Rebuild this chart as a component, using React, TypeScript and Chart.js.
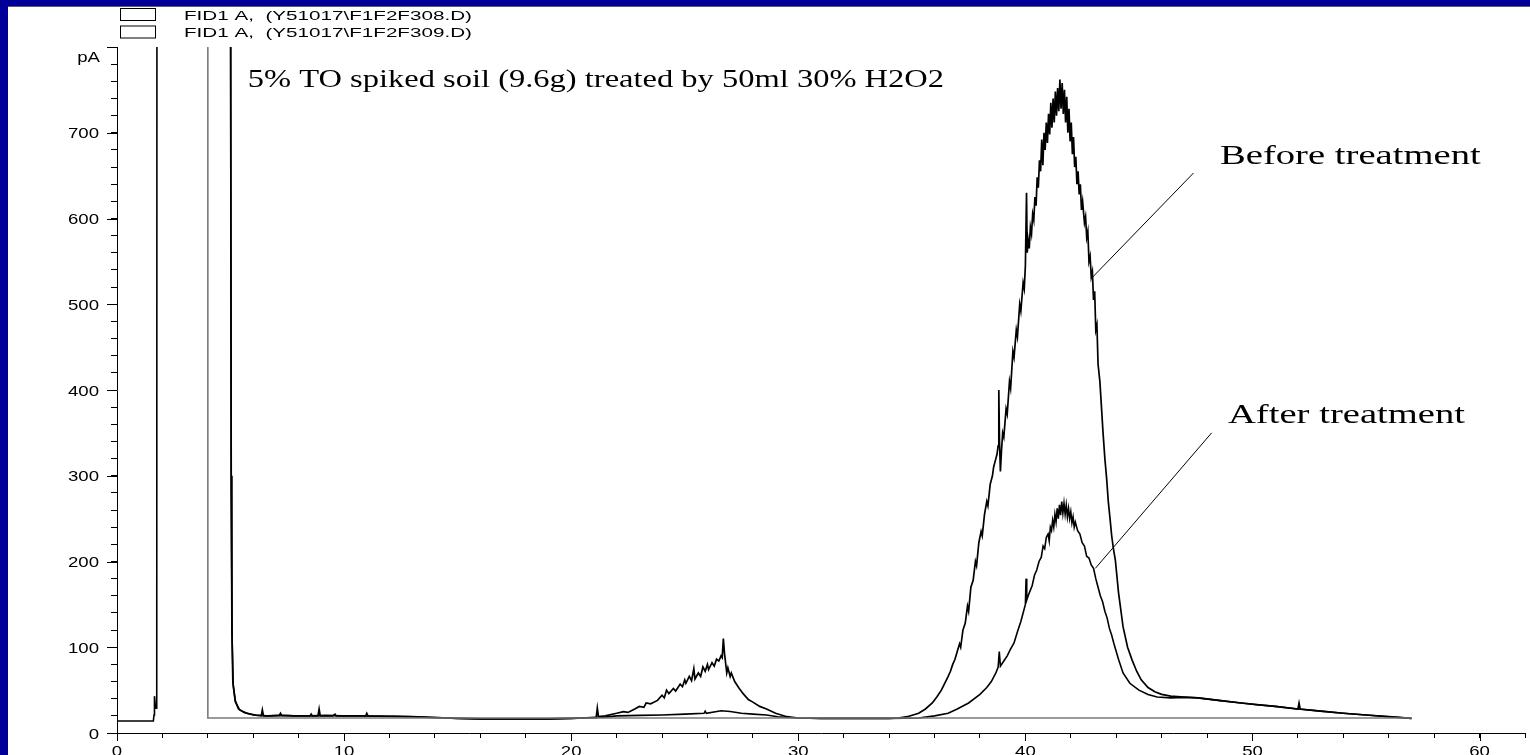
import React, { useEffect, useRef } from 'react';
import { Chart, registerables } from 'chart.js';

Chart.register(...registerables);

// ---------- data ----------
const legendLabels = ['FID1 A,  (Y51017\\F1F2F308.D)', 'FID1 A,  (Y51017\\F1F2F309.D)'];
const xMajorTicks = [0, 10, 20, 30, 40, 50, 60];
const yMajorTicks = [0, 100, 200, 300, 400, 500, 600, 700];
const yUnitLabel = 'pA';
const titleText = '5% TO spiked soil (9.6g) treated by 50ml 30% H2O2';
const beforeText = 'Before treatment';
const afterText = 'After treatment';

// "before treatment" trace (F308): [retention time (min), signal (pA)]
const beforeTrace: [number, number][] = [
  [4.96, 2000], [5.0, 900], [5.03, 300], [5.06, 120], [5.1, 60], [5.2, 38], [5.35, 28], [5.6, 24], [6.0, 21],
  [6.35, 20], [6.4, 27], [6.45, 20], [6.8, 20], [7.15, 20.5], [7.2, 23], [7.25, 20.5], [7.8, 20], [8.5, 20],
  [8.55, 22], [8.6, 20], [8.85, 20], [8.9, 28], [8.95, 20], [9.5, 20], [9.6, 22], [9.65, 20], [10.2, 20],
  [10.95, 20], [11.0, 23], [11.05, 20], [12.0, 19.5], [13.0, 19], [14.0, 18], [15.0, 17], [16.0, 16.5],
  [17.0, 16.5], [18.0, 16.5], [19.0, 16.5], [20.0, 17], [21.0, 18], [21.1, 18], [21.15, 29], [21.2, 19],
  [21.5, 20], [22.0, 23], [22.3, 25], [22.5, 24], [22.8, 28], [23.0, 31], [23.2, 30], [23.3, 35], [23.5, 34],
  [23.8, 38], [24.0, 44], [24.1, 41], [24.2, 50], [24.3, 46], [24.5, 52], [24.6, 49], [24.8, 57], [24.9, 54],
  [25.0, 62], [25.05, 58], [25.2, 66], [25.3, 61], [25.4, 75], [25.45, 63], [25.6, 70], [25.7, 66], [25.8, 77],
  [25.9, 72], [26.0, 80], [26.05, 74], [26.2, 82], [26.3, 78], [26.4, 86], [26.5, 84], [26.6, 90], [26.65, 88],
  [26.7, 110], [26.75, 93], [26.85, 70], [26.9, 76], [27.0, 66], [27.05, 70], [27.2, 60], [27.4, 52], [27.6, 45],
  [27.8, 39], [28.0, 36], [28.3, 31], [28.6, 28], [29.0, 23], [29.5, 19], [30.0, 17.5], [31.0, 17], [32.0, 17],
  [33.0, 17], [34.0, 17], [34.4, 17.5], [34.8, 19], [35.3, 23], [35.6, 28], [35.9, 35], [36.1, 42], [36.3, 50],
  [36.6, 66], [36.7, 72], [36.8, 80], [36.9, 86], [37.0, 95], [37.1, 104], [37.15, 100], [37.25, 120],
  [37.35, 128], [37.45, 148], [37.5, 142], [37.6, 170], [37.7, 178], [37.8, 200], [37.85, 195], [37.95, 222],
  [38.05, 235], [38.1, 230], [38.2, 255], [38.3, 270], [38.35, 265], [38.45, 290], [38.55, 300], [38.6, 310],
  [38.7, 320], [38.75, 325], [38.8, 335], [38.83, 400], [38.86, 340], [38.9, 305], [38.95, 330], [39.0, 350],
  [39.05, 345], [39.15, 378], [39.2, 372], [39.3, 410], [39.35, 402], [39.45, 445], [39.5, 438], [39.6, 470],
  [39.65, 462], [39.75, 500], [39.8, 492], [39.9, 525], [39.95, 518], [40.0, 545], [40.05, 630], [40.08, 560],
  [40.12, 575], [40.17, 565], [40.22, 590], [40.27, 582], [40.32, 605], [40.37, 598], [40.42, 625], [40.47, 615],
  [40.52, 648], [40.57, 636], [40.62, 668], [40.67, 655], [40.72, 692], [40.77, 662], [40.82, 700], [40.87, 680],
  [40.92, 712], [40.97, 688], [41.02, 722], [41.07, 698], [41.12, 735], [41.17, 706], [41.22, 740], [41.27, 712],
  [41.32, 748], [41.37, 720], [41.42, 752], [41.47, 725], [41.52, 762], [41.57, 728], [41.62, 758], [41.67, 722],
  [41.72, 750], [41.77, 712], [41.82, 742], [41.87, 700], [41.92, 728], [41.97, 690], [42.02, 712], [42.07, 675],
  [42.12, 695], [42.17, 660], [42.22, 672], [42.27, 640], [42.32, 655], [42.37, 628], [42.42, 640], [42.47, 610],
  [42.52, 620], [42.6, 595], [42.65, 602], [42.7, 578], [42.75, 585], [42.8, 550], [42.85, 556], [42.9, 532],
  [42.95, 538], [43.0, 505], [43.05, 515], [43.1, 470], [43.15, 476], [43.2, 430], [43.28, 410], [43.35, 380],
  [43.42, 350], [43.5, 320], [43.58, 296], [43.65, 270], [43.72, 252], [43.8, 230], [43.88, 214], [43.96, 202],
  [44.1, 164], [44.3, 124], [44.5, 100], [44.7, 85], [44.9, 72], [45.1, 62], [45.4, 53], [45.7, 48], [46.0, 45],
  [46.4, 43], [47.0, 42], [47.6, 41], [48.5, 38], [49.5, 35], [50.2, 33], [51.0, 31], [52.0, 28], [52.05, 35],
  [52.1, 28], [53.0, 25.5], [54.0, 23], [55.0, 21], [56.0, 19], [57.0, 17],
];

// "after treatment" trace (F309)
const afterTrace: [number, number][] = [
  [0, 14], [0.8, 14], [1.6, 14], [1.63, 21], [1.65, 43], [1.68, 33], [1.72, 29], [1.75, 31], [1.77, 2000],
  [4.98, 2000], [5.0, 880], [5.03, 280], [5.07, 110], [5.12, 55], [5.22, 36], [5.4, 27], [5.7, 23], [6.1, 21],
  [6.6, 20], [7.2, 20.5], [7.8, 20], [8.5, 20], [9.2, 20.5], [9.9, 20], [10.6, 20], [11.4, 19.5], [12.2, 19.5],
  [13.0, 19], [14.0, 18], [15.0, 17], [16.0, 16.5], [17.0, 16.5], [18.0, 16.5], [19.0, 16.5], [20.0, 17],
  [21.0, 18], [21.5, 18.5], [22.0, 20], [23.0, 20.5], [24.0, 21], [25.0, 22], [25.85, 23], [25.9, 25.5],
  [25.95, 23], [26.6, 26], [27.0, 25], [27.5, 23], [28.0, 22], [28.6, 21], [29.1, 19], [29.6, 18], [30.0, 17.5],
  [31.0, 17], [32.0, 17], [33.0, 17], [34.0, 17], [35.3, 17.5], [36.0, 20], [36.6, 23], [37.0, 28], [37.5, 35],
  [38.0, 45], [38.3, 53], [38.5, 60], [38.7, 70], [38.8, 77], [38.85, 95], [38.9, 78], [39.05, 84], [39.2, 90],
  [39.35, 98], [39.5, 105], [39.65, 118], [39.8, 130], [39.9, 140], [40.0, 150], [40.03, 180], [40.06, 155],
  [40.15, 162], [40.3, 172], [40.4, 184], [40.5, 190], [40.6, 200], [40.7, 205], [40.78, 218], [40.85, 215],
  [40.92, 228], [41.0, 232], [41.05, 224], [41.1, 240], [41.15, 236], [41.2, 248], [41.25, 240], [41.3, 255],
  [41.35, 246], [41.4, 262], [41.45, 250], [41.5, 266], [41.55, 254], [41.6, 270], [41.65, 256], [41.7, 268],
  [41.75, 255], [41.8, 266], [41.85, 252], [41.9, 262], [41.95, 250], [42.0, 258], [42.05, 245], [42.1, 252],
  [42.15, 240], [42.2, 246], [42.3, 236], [42.4, 232], [42.5, 222], [42.6, 218], [42.7, 206], [42.8, 204],
  [42.9, 196], [43.0, 192], [43.1, 180], [43.15, 175], [43.3, 160], [43.4, 153], [43.5, 142], [43.6, 134],
  [43.7, 122], [43.8, 114], [43.9, 104], [44.0, 95], [44.1, 86], [44.3, 70], [44.6, 58], [45.0, 50], [45.4, 45],
  [45.8, 42], [46.4, 41], [47.0, 41.5], [47.6, 41], [48.5, 38], [49.5, 35], [50.2, 33], [51.0, 31], [52.0, 28],
  [53.0, 25.5], [54.0, 23], [55.0, 21], [56.0, 19], [57.0, 17],
];

// flat reference line of the overlay
const baselineTrace: [number, number][] = [[4.0, 2000], [4.0, 17.5], [57.0, 17.5]];

// annotation leader lines
const beforeLeader: [number, number][] = [[47.4, 653], [42.9, 530]];
const afterLeader: [number, number][] = [[48.2, 350], [43.08, 192]];

// annotation text anchors (data coordinates)
const titleAnchor = [5.76, 753];
const beforeAnchor = [48.57, 663];
const afterAnchor = [48.92, 361];

const toPoints = (pairs: [number, number][]) => pairs.map(([x, y]) => ({ x, y }));

function stretchedText(
  ctx: CanvasRenderingContext2D,
  text: string,
  x: number,
  y: number,
  font: string,
  sx: number,
  align: 'left' | 'right' | 'center' = 'left',
) {
  ctx.save();
  ctx.font = font;
  ctx.fillStyle = '#000';
  ctx.textAlign = 'left';
  ctx.textBaseline = 'alphabetic';
  const w = ctx.measureText(text).width * sx;
  const x0 = align === 'left' ? x : align === 'right' ? x - w : x - w / 2;
  ctx.translate(x0, y);
  ctx.scale(sx, 1);
  ctx.fillText(text, 0, 0);
  ctx.restore();
}

const TICK_FONT = '15px "Liberation Sans"';
const TICK_SX = 1.24;

const decorPlugin = {
  id: 'decor',
  afterDraw(chart: any) {
    const { ctx, scales } = chart;
    const xs = scales.x;
    const ys = scales.y;
    ctx.save();
    ctx.strokeStyle = '#000';
    ctx.lineWidth = 1;
    // longer major ticks
    [...yMajorTicks, 800].forEach((v) => {
      const py = Math.round(ys.getPixelForValue(v)) + 0.5;
      ctx.beginPath();
      ctx.moveTo(ys.right - 10, py);
      ctx.lineTo(ys.right, py);
      ctx.stroke();
    });
    xMajorTicks.forEach((v) => {
      const px = Math.round(xs.getPixelForValue(v)) + 0.5;
      ctx.beginPath();
      ctx.moveTo(px, xs.top);
      ctx.lineTo(px, xs.top + 8);
      ctx.stroke();
    });
    ctx.restore();

    // tick labels (stretched like the original bitmap)
    yMajorTicks.forEach((v) => {
      stretchedText(ctx, String(v), ys.right - 18, ys.getPixelForValue(v) + 5.5, TICK_FONT, TICK_SX, 'right');
    });
    stretchedText(ctx, yUnitLabel, ys.right - 17, ys.getPixelForValue(800) + 15, TICK_FONT, TICK_SX, 'right');
    xMajorTicks.forEach((v) => {
      stretchedText(ctx, String(v), xs.getPixelForValue(v), xs.top + 23, TICK_FONT, TICK_SX, 'center');
    });

    // annotations
    stretchedText(ctx, titleText, xs.getPixelForValue(titleAnchor[0]), ys.getPixelForValue(titleAnchor[1]),
      '26px "Liberation Serif"', 1.25);
    stretchedText(ctx, beforeText, xs.getPixelForValue(beforeAnchor[0]), ys.getPixelForValue(beforeAnchor[1]),
      '28px "Liberation Serif"', 1.38);
    stretchedText(ctx, afterText, xs.getPixelForValue(afterAnchor[0]), ys.getPixelForValue(afterAnchor[1]),
      '28px "Liberation Serif"', 1.38);

    // legend
    ctx.save();
    ctx.strokeStyle = '#000';
    ctx.fillStyle = '#fff';
    ctx.lineWidth = 1;
    legendLabels.forEach((lab, i) => {
      const top = 1.5 + i * 17.5;
      ctx.fillRect(112.5, top, 35, 12);
      ctx.strokeRect(112.5, top, 35, 12);
      stretchedText(ctx, lab, 176, top + 11, '12px "Liberation Sans"', 1.72);
    });
    ctx.restore();
  },
};

export default function App() {
  const ref = useRef<HTMLCanvasElement | null>(null);

  useEffect(() => {
    document.body.style.margin = '0';
    const canvas = ref.current;
    if (!canvas) return;
    const lineDs = (label: string, pairs: [number, number][], color: string, width: number) => ({
      label,
      data: toPoints(pairs),
      borderColor: color,
      backgroundColor: color,
      borderWidth: width,
      pointRadius: 0,
      tension: 0,
      fill: false,
    });
    const chart = new Chart(canvas, {
      type: 'line',
      data: {
        datasets: [
          lineDs('baseline', baselineTrace, '#7a7a7a', 1.6),
          lineDs(legendLabels[1], afterTrace, '#000', 1.6),
          lineDs(legendLabels[0], beforeTrace, '#000', 1.7),
          lineDs('before leader', beforeLeader, '#000', 1),
          lineDs('after leader', afterLeader, '#000', 1),
        ],
      },
      options: {
        animation: false,
        responsive: false,
        devicePixelRatio: 1,
        layout: { padding: { top: 40, right: 2.5, left: 0, bottom: 0 } },
        plugins: { legend: { display: false }, tooltip: { enabled: false }, title: { display: false } },
        scales: {
          x: {
            type: 'linear',
            min: 0,
            max: 62,
            afterFit: (s: any) => { s.height = 22; },
            border: { display: true, color: '#000', width: 1 },
            grid: { drawOnChartArea: false, drawTicks: true, tickLength: 5, color: '#000' },
            ticks: {
              stepSize: 2,
              autoSkip: false,
              maxRotation: 0,
              padding: 5,
              color: '#000',
              font: { family: '"Liberation Sans"', size: 15 },
              callback: () => '',
            },
          },
          y: {
            type: 'linear',
            min: 0,
            max: 800,
            afterFit: (s: any) => { s.width = 109; },
            border: { display: true, color: '#000', width: 1 },
            grid: { drawOnChartArea: false, drawTicks: true, tickLength: 6, color: '#000' },
            ticks: {
              stepSize: 20,
              autoSkip: false,
              padding: 12,
              color: '#000',
              font: { family: '"Liberation Sans"', size: 15 },
              callback: () => '',
            },
          },
        },
      },
      plugins: [decorPlugin],
    });
    return () => chart.destroy();
  }, []);

  return (
    <div style={{ position: 'relative', width: 1530, height: 755, background: '#000099', overflow: 'hidden' }}>
      <div
        style={{
          position: 'absolute',
          left: 8,
          top: 6,
          width: 1522,
          height: 749,
          background: '#fff',
          borderTop: '1px solid #5a5a6a',
          boxSizing: 'border-box',
        }}
      >
        <canvas ref={ref} width={1522} height={748} style={{ display: 'block', width: 1522, height: 748 }} />
      </div>
    </div>
  );
}
